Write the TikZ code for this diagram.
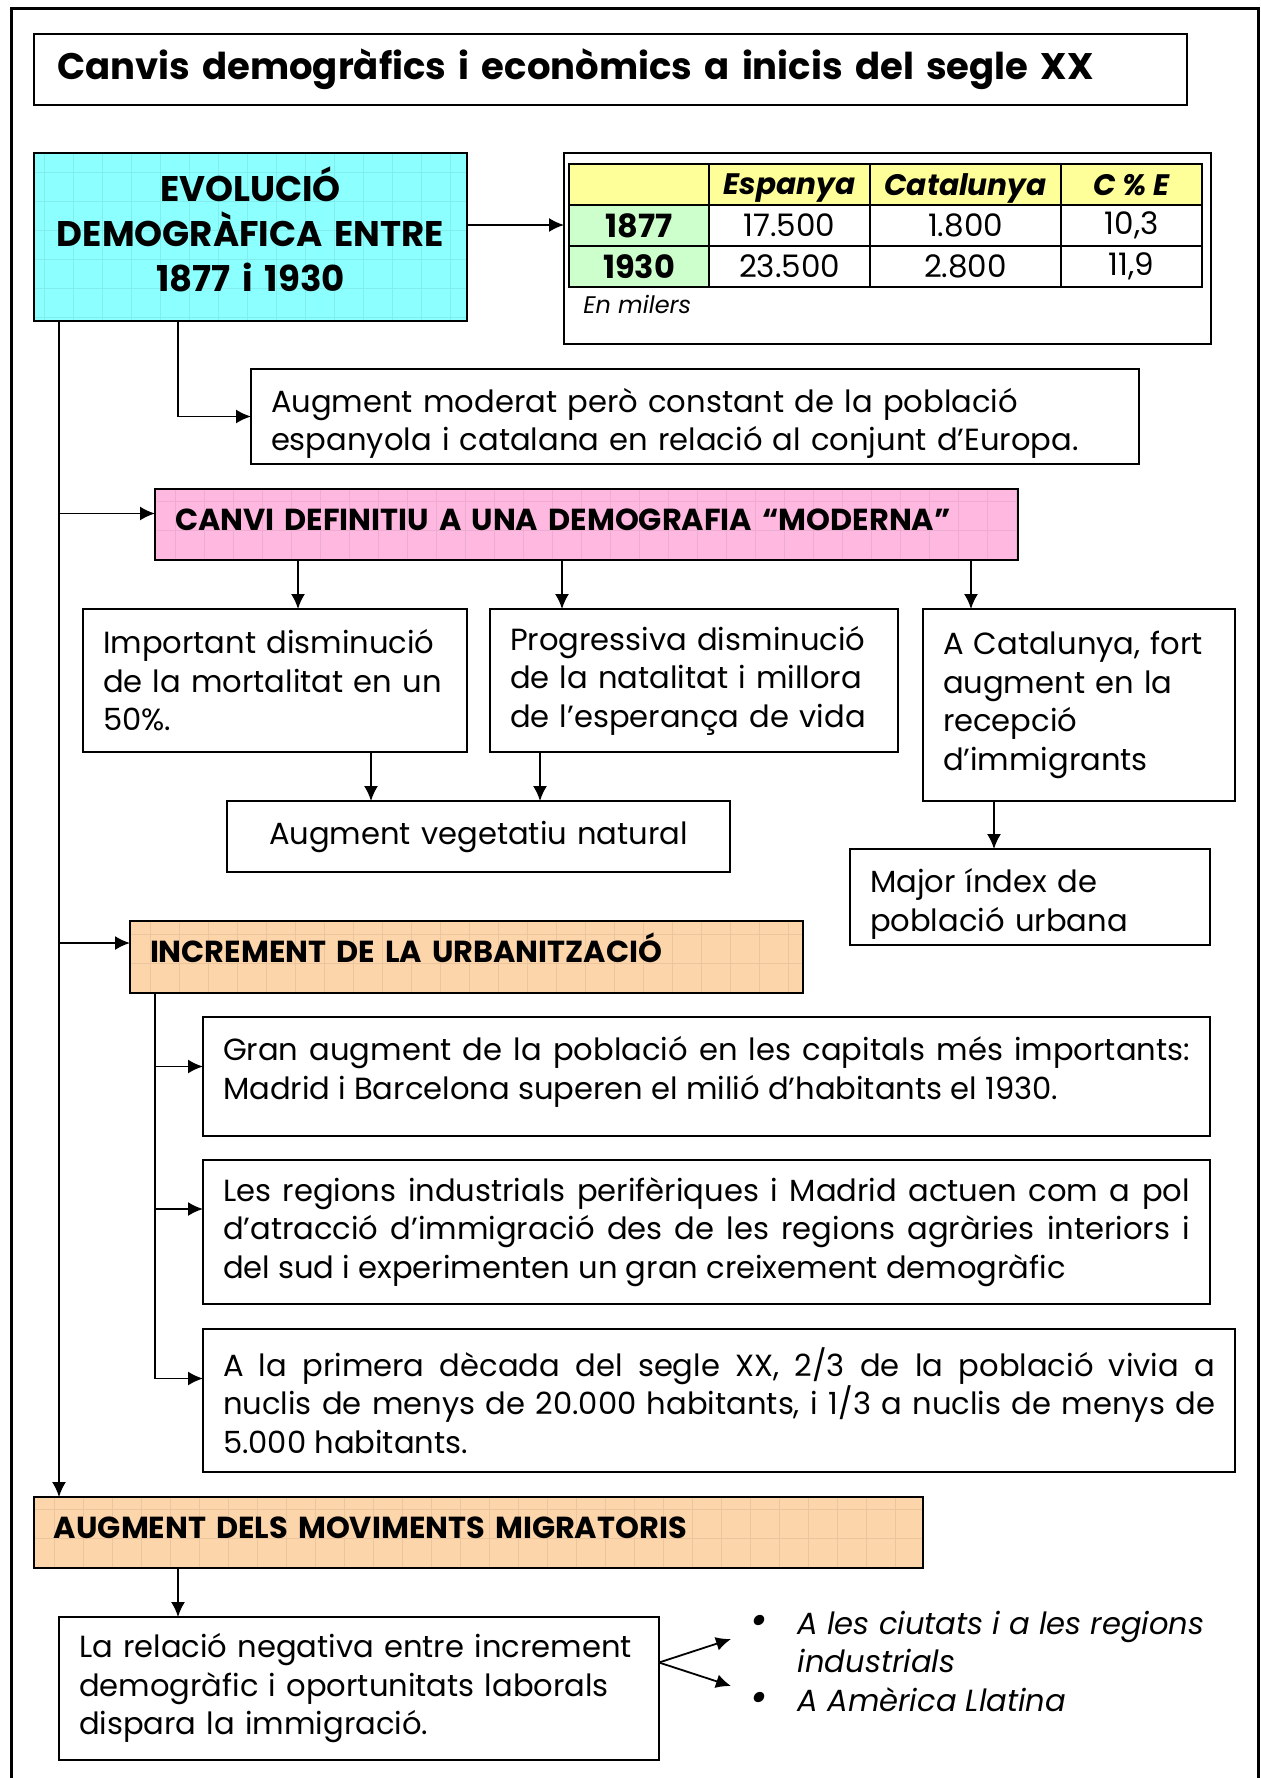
\documentclass[tikz,border=0pt]{standalone}
\usepackage{fontspec}
\setmainfont{Poppins}
\usetikzlibrary{positioning, arrows.meta}

\newcommand\bodyfont{\fontsize{15.3pt}{19.25pt}\selectfont}
\newcommand\headfont{\fontsize{15.2pt}{17pt}\selectfont\bfseries}
\newcommand\titlefnt{\fontsize{18.5pt}{21pt}\selectfont\bfseries}
\newcommand\evolfont{\fontsize{17.8pt}{22.5pt}\selectfont\bfseries}
\newcommand\tabfont{\fontsize{15.5pt}{17pt}\selectfont}

\definecolor{evolcyan}{RGB}{140,255,255}
\definecolor{canvipink}{RGB}{255,185,225}
\definecolor{peach}{RGB}{252,213,170}
\definecolor{headyellow}{RGB}{255,255,153}
\definecolor{yeargreen}{RGB}{204,255,204}

\begin{document}
\begin{tikzpicture}[> = {Latex[length=7.5pt, width=7pt]}, x=0.5pt, y=-0.5pt]
    \tikzset{
      block/.style={
        draw, rectangle, line width=1pt, outer sep=0pt, anchor=north west,
        inner xsep=10pt, inner ysep=0pt, align=left, font=\bodyfont,
      },
      head/.style={
        block, font=\headfont, fill=#1, text depth=5pt,
        path picture={\draw[#1!80!black, line width=0.3pt, opacity=0.35]
          (path picture bounding box.south west) grid[step=14.5pt] (path picture bounding box.north east);},
      },
      cell/.style={
        draw, rectangle, line width=1pt, outer sep=0pt, minimum height=20.5pt,
        inner sep=0pt, font=\tabfont,
      },
      colhead/.style={
        cell, fill=headyellow, text depth=0pt, font=\fontsize{14.8pt}{17pt}\selectfont\bfseries\itshape,
      },
      link/.style={->, line width=0.9pt},
    }
    \useasboundingbox (0,0) rectangle (1261,1778);
    \draw[line width=1.5pt] (11,1778) -- (11,8) -- (1258,8) -- (1258,1778);

    % title
    \node (title) [block, font=\titlefnt, inner xsep=11.5pt, text width=553.5pt, minimum height=35.5pt] at (34,34)
      {Canvis demogràfics i econòmics a inicis del segle XX};

    % population block
    \node (evol) [head=evolcyan, font=\evolfont, align=center, inner xsep=5pt, text width=206.5pt,
      text depth=53pt, minimum height=84pt] at (34,153)
      {EVOLUCIÓ\\DEMOGRÀFICA ENTRE\\1877 i 1930};
    \node (tbl) [block, text width=303.5pt, minimum height=95.5pt] at (564,153) {};
    \node (h0) [cell, anchor=north west, fill=headyellow, minimum width=70pt] at (569,164) {};
    \node (h1) [colhead, minimum width=80.5pt, right=0pt of h0] {Espanya};
    \node (h2) [colhead, minimum width=95.5pt, right=0pt of h1] {Catalunya};
    \node (h3) [colhead, minimum width=70.5pt, right=0pt of h2] {C \% E};
    \foreach[count=\i] \yr/\es/\ca/\ce in {1877/17.500/1.800/{10,3}, 1930/23.500/2.800/{11,9}} {
      \node (r\i c0) [cell, anchor=north west, fill=yeargreen, minimum width=70pt, font=\fontsize{16pt}{17pt}\selectfont\bfseries] at (569,{164+41*\i}) {\yr};
      \node (r\i c1) [cell, minimum width=80.5pt, right=0pt of r\i c0] {\es};
      \node (r\i c2) [cell, minimum width=95.5pt, right=0pt of r\i c1] {\ca};
      \node (r\i c3) [cell, minimum width=70.5pt, right=0pt of r\i c2] {\ce};
    }
    \node (unit) [anchor=west, inner sep=0pt, font=\fontsize{12pt}{14pt}\selectfont\itshape] at (583,304) {En milers};

    \node (moderat) [block, text width=424pt, text height=15pt, text depth=19.25pt, minimum height=47.5pt] at (251,369)
      {Augment moderat però constant de la població\\espanyola i catalana en relació al conjunt d’Europa.};

    % modern demography
    \node (canvi) [head=canvipink, text width=411.5pt, minimum height=35.5pt] at (155,489)
      {CANVI DEFINITIU A UNA DEMOGRAFIA “MODERNA”};
    \node (mort) [block, text width=172pt, minimum height=71.5pt] at (83,609)
      {Important disminució\\de la mortalitat en un\\50\%.};
    \node (nat) [block, text width=184pt, minimum height=71.5pt] at (490,609)
      {Progressiva disminució\\de la natalitat i millora\\de l’esperança de vida};
    \node (immi) [block, text width=136pt, minimum height=96pt] at (923,609)
      {A Catalunya, fort\\augment en la\\recepció\\d’immigrants};
    \node (veget) [block, align=center, text width=231.5pt, minimum height=35.5pt] at (227,801)
      {Augment vegetatiu natural};
    \node (urb) [block, text width=160pt, text height=15pt, text depth=19.25pt, minimum height=48pt] at (850,849)
      {Major índex de\\població urbana};

    % urbanisation
    \node (incr) [head=peach, text depth=9pt, text width=316.5pt, minimum height=36pt] at (130,921)
      {INCREMENT DE LA URBANITZACIÓ};
    \node (capit) [block, align=justify, text width=483.5pt, text depth=27.7pt, minimum height=59.5pt] at (203,1017)
      {Gran augment de la població en les capitals més importants:\linebreak Madrid i Barcelona superen el milió d’habitants el 1930.};
    \node (regio) [block, align=justify, text width=483.5pt, minimum height=72pt] at (203,1160)
      {Les regions industrials perifèriques i Madrid actuen com a pol\linebreak d’atracció d’immigració des de les regions agràries interiors i\linebreak del sud i experimenten un gran creixement demogràfic};
    \node (nucli) [block, align=justify, text width=496pt, minimum height=71.5pt] at (203,1329)
      {A la primera dècada del segle XX, 2/3 de la població vivia a\linebreak nuclis de menys de 20.000 habitants, i 1/3 a nuclis de menys de\linebreak 5.000 habitants.};

    % migrations
    \node (migr) [head=peach, text width=424.5pt, minimum height=35.5pt] at (34,1497)
      {AUGMENT DELS MOVIMENTS MIGRATORIS};
    \node (causa) [block, text width=280pt, minimum height=71.5pt] at (59,1617)
      {La relació negativa entre increment\\demogràfic i oportunitats laborals\\dispara la immigració.};
    \node (dest) [anchor=north west, inner sep=0pt, font=\bodyfont\itshape] at (750,1607)
      {\begin{tabular}{@{}l@{\hspace{15pt}}l@{}}
        {\fontsize{21pt}{19.25pt}\selectfont\textbullet} & A les ciutats i a les regions\\
                    & industrials\\
        {\fontsize{21pt}{19.25pt}\selectfont\textbullet} & A Amèrica Llatina
      \end{tabular}};
    \coordinate (toCity) at (731,1639);
    \coordinate (toAmerica) at (731,1686);

    % arrows
    \draw[link] ([yshift=6pt]evol.east) -- ([yshift=11.75pt]tbl.west);
    \draw[link] ([xshift=-36.25pt]evol.south) |- (moderat.west);
    \draw[link] ([xshift=12.5pt]evol.south west) -- ([xshift=12.5pt]migr.north west);
    \draw[link] ([xshift=-48pt, yshift=5.5pt]canvi.west) -- ([yshift=5.5pt]canvi.west);
    \draw[link] ([xshift=-35.5pt, yshift=7pt]incr.west) -- ([yshift=7pt]incr.west);
    \draw[link] ([xshift=71.5pt]canvi.south west) -- ([xshift=107.5pt]mort.north west);
    \draw[link] ([xshift=203.5pt]canvi.south west) -- ([xshift=36pt]nat.north west);
    \draw[link] ([xshift=408pt]canvi.south west) -- ([xshift=24pt]immi.north west);
    \draw[link] ([xshift=144pt]mort.south west) -- ([xshift=72pt]veget.north west);
    \draw[link] ([xshift=25pt]nat.south west) -- ([xshift=156.5pt]veget.north west);
    \draw[link] ([xshift=35.5pt]immi.south west) -- ([xshift=72pt]urb.north west);
    \draw[link] ([xshift=12.5pt]incr.south west) |- ([yshift=11pt]nucli.west);
    \draw[link] ([xshift=-24pt, yshift=5pt]capit.west) -- ([yshift=5pt]capit.west);
    \draw[link] ([xshift=-24pt, yshift=11.5pt]regio.west) -- ([yshift=11.5pt]regio.west);
    \draw[link] ([xshift=72pt]migr.south west) -- ([xshift=59.5pt]causa.north west);
    \draw[link] ([yshift=13pt]causa.east) -- (toCity);
    \draw[link] ([yshift=13pt]causa.east) -- (toAmerica);

  \end{tikzpicture}
\end{document}
